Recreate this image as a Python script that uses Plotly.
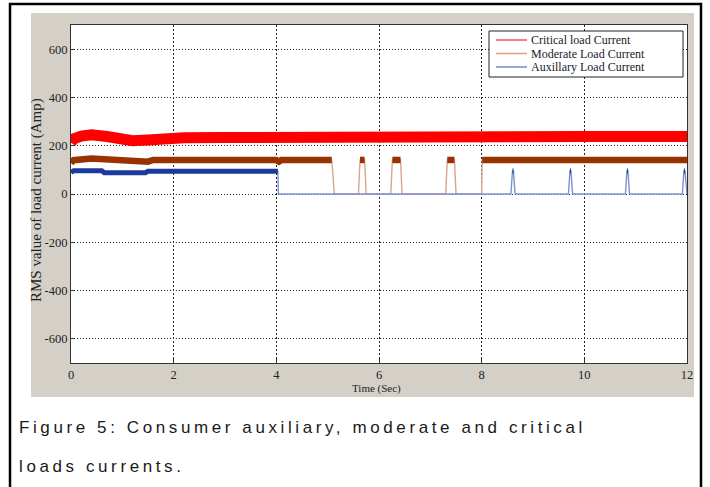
import plotly.graph_objects as go

# ---------------- data ----------------
series_names = ["Critical load Current", "Moderate Load Current", "Auxillary Load Current"]

critical_t = [0, 0.05, 0.2, 0.4, 0.7, 1.0, 1.2, 1.5, 1.8, 2.2, 3.0, 4.0, 4.5, 5.0, 5.3,
              5.6, 6.0, 6.3, 6.6, 7.0, 7.05, 7.4, 7.8, 8.2, 9.0, 10.0, 11.0, 12.0]
critical_i = [212, 228, 240, 245, 238, 226, 221, 224, 230, 233, 234, 236, 235, 233, 230,
              232, 237, 234, 235, 242, 238, 236, 238, 240, 238, 238, 238, 238]

moderate_t = [0, 0.05, 0.4, 0.8, 1.1, 1.5, 1.6, 4.0, 4.05, 4.1, 5.08, 5.13,
              5.60, 5.63, 5.72, 5.75, 6.23, 6.26, 6.42, 6.45, 7.30, 7.33, 7.47, 7.50,
              8.0, 8.01, 9.0, 10.0, 11.0, 12.0]
moderate_i = [128, 140, 147, 142, 134, 134, 141, 141, 134, 141, 141, 0,
              0, 141, 141, 0, 0, 141, 141, 0, 0, 141, 141, 0,
              0, 141, 140, 141, 140, 141]

auxiliary_t = [0, 0.05, 0.6, 0.65, 1.45, 1.5, 4.03, 4.04, 8.57, 8.60, 8.62, 8.65,
               9.69, 9.72, 9.74, 9.77, 10.80, 10.83, 10.85, 10.88, 11.91, 11.94, 11.96, 11.99, 12.0]
auxiliary_i = [90, 96, 96, 88, 88, 94, 94, 0, 0, 95, 95, 0,
               0, 95, 95, 0, 0, 95, 95, 0, 0, 95, 95, 0, 0]

x_ticks = [0, 2, 4, 6, 8, 10, 12]
x_ticklabels = ["0", "2", "4", "6", "8", "10", "12"]
y_ticks = [-600, -400, -200, 0, 200, 400, 600]
y_ticklabels = ["-600", "-400", "-200", "0", "200", "400", "600"]

caption_lines = ["Figure 5: Consumer auxiliary, moderate and critical", "loads currents."]

# ---------------- styling ----------------
W, H = 710, 487
L, R, T, B = 71, 687, 25, 363  # plot area pixel box


def px2x(px):
    return (px - L) / (R - L)


def px2y(py):
    return (B - py) / (B - T)


thick_colors = ["#ff0000", "#9a3200", "#1c3a9c"]
thin_colors = ["#ff5a5a", "#d9a68c", "#7d92d2"]
thick_widths = [11, 6.5, 5]
serif = "Liberation Serif, Times New Roman, serif"

data = [(critical_t, critical_i), (moderate_t, moderate_i), (auxiliary_t, auxiliary_i)]

fig = go.Figure()

# thin full signals (transitions and off-state)
for (t, v), name, c in zip(data, series_names, thin_colors):
    fig.add_trace(go.Scatter(x=t, y=v, mode="lines", name=name,
                             line=dict(color=c, width=1.4), showlegend=False,
                             hoverinfo="skip"))

# thick on-state bands
for (t, v), name, c, w in zip(data, series_names, thick_colors, thick_widths):
    yv = [val if val > 50 else None for val in v]
    fig.add_trace(go.Scatter(x=t, y=yv, mode="lines", name=name,
                             line=dict(color=c, width=w), showlegend=False,
                             connectgaps=False))

shapes = [
    # gray figure panel
    dict(type="rect", xref="paper", yref="paper", x0=px2x(31), x1=px2x(694),
         y0=px2y(397), y1=px2y(13), fillcolor="#d4d0c8", line=dict(width=0), layer="below"),
    # white axes background
    dict(type="rect", xref="paper", yref="paper", x0=0, x1=1, y0=0, y1=1,
         fillcolor="white", line=dict(width=0), layer="below"),
    # outer black frame
    dict(type="rect", xref="paper", yref="paper", x0=px2x(10), x1=px2x(701),
         y0=px2y(500), y1=px2y(4), line=dict(color="black", width=2.5), layer="above"),
    # legend box
    dict(type="rect", xref="paper", yref="paper", x0=px2x(489), x1=px2x(683),
         y0=px2y(77), y1=px2y(31), fillcolor="white",
         line=dict(color="#222", width=1), layer="above"),
]

annotations = []
legend_rows = [40, 53.5, 67]
for name, c, ry in zip(series_names, thin_colors, legend_rows):
    shapes.append(dict(type="line", xref="paper", yref="paper", x0=px2x(496), x1=px2x(527),
                       y0=px2y(ry), y1=px2y(ry), line=dict(color=c, width=1.6), layer="above"))
    annotations.append(dict(text=name, xref="paper", yref="paper", x=px2x(530), y=px2y(ry),
                            xanchor="left", yanchor="middle", showarrow=False, borderpad=0,
                            font=dict(family=serif, size=12, color="#1a1a2a")))

annotations += [
    dict(text="RMS value of load current (Amp)", xref="paper", yref="paper",
         x=px2x(36), y=px2y(200), textangle=-90, showarrow=False,
         xanchor="center", yanchor="middle", borderpad=0,
         font=dict(family=serif, size=15, color="#222")),
    dict(text="Time (Sec)", xref="paper", yref="paper", x=px2x(376), y=px2y(388),
         showarrow=False, xanchor="center", yanchor="middle",
         font=dict(family=serif, size=11, color="#222")),
]
for line, ly in zip(caption_lines, [427, 466]):
    annotations.append(dict(text='<span style="letter-spacing:3.6px">' + line + "</span>",
                            xref="paper", yref="paper", x=px2x(17), y=px2y(ly),
                            xanchor="left", yanchor="middle", showarrow=False,
                            font=dict(family="Liberation Sans, Arial, sans-serif", size=17,
                                      color="#1a1a1a")))

axis_common = dict(ticks="inside", ticklen=4, tickcolor="#333", showline=True, mirror=True,
                   linecolor="#333", linewidth=1, showgrid=True, gridcolor="#222",
                   gridwidth=1, zeroline=False,
                   tickfont=dict(family=serif, size=12.5, color="#222"))

fig.update_layout(
    width=W, height=H,
    margin=dict(l=L, r=W - R, t=T, b=H - B),
    paper_bgcolor="white", plot_bgcolor="white",
    showlegend=False,
    shapes=shapes, annotations=annotations,
    xaxis=dict(range=[0, 12], tickvals=x_ticks, ticktext=x_ticklabels,
               griddash="2px,2px", **axis_common),
    yaxis=dict(range=[-700, 700], tickvals=y_ticks, ticktext=y_ticklabels,
               griddash="1px,2px", **axis_common),
)

fig.write_html("out.html", config={"displayModeBar": False},
               post_script="document.body.style.margin='0';")
